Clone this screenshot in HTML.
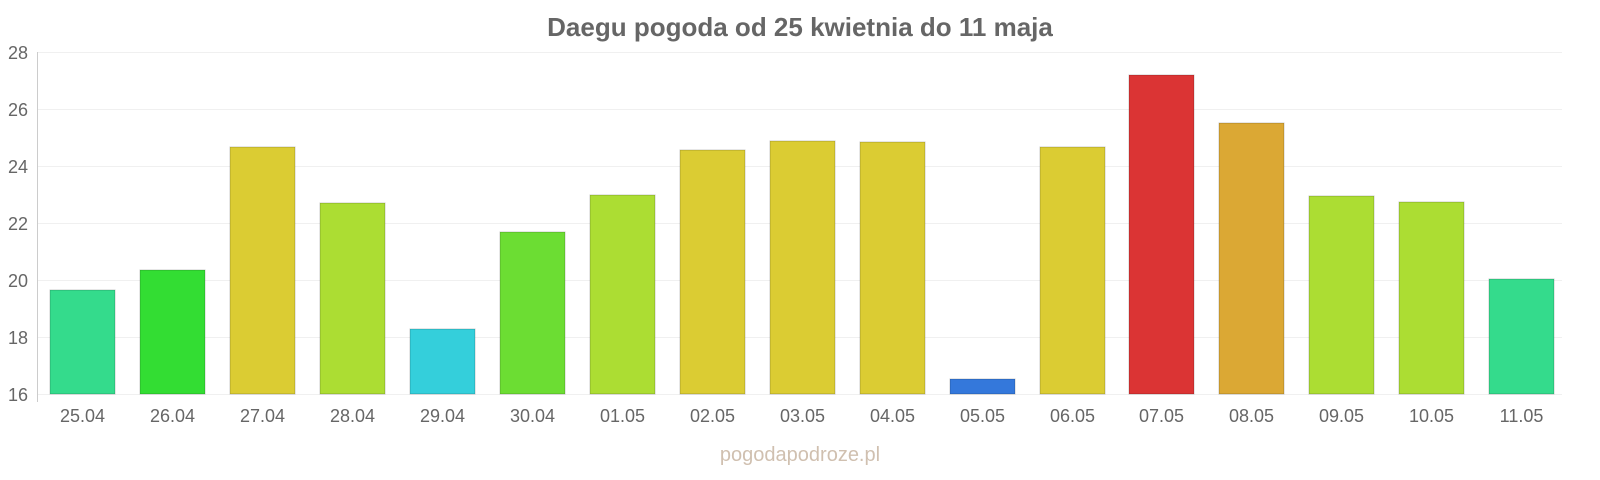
<!DOCTYPE html>
<html><head><meta charset="utf-8"><style>html,body{margin:0;background:#fff;overflow:hidden}svg{display:block}</style></head><body>
<svg width="1600" height="480" xmlns="http://www.w3.org/2000/svg" font-family="Liberation Sans, sans-serif">
<rect width="1600" height="480" fill="#fff"/>
<text x="800" y="36" text-anchor="middle" font-size="26" font-weight="bold" fill="#666">Daegu pogoda od 25 kwietnia do 11 maja</text>
<g stroke="#f0f0f0" stroke-width="1">
<line x1="38" x2="1562" y1="52.5" y2="52.5"/><line x1="38" x2="1562" y1="109.5" y2="109.5"/><line x1="38" x2="1562" y1="166.5" y2="166.5"/><line x1="38" x2="1562" y1="223.5" y2="223.5"/><line x1="38" x2="1562" y1="280.5" y2="280.5"/><line x1="38" x2="1562" y1="337.5" y2="337.5"/><line x1="38" x2="1562" y1="394.5" y2="394.5"/>
</g>
<line x1="37.5" x2="37.5" y1="52" y2="402" stroke="#ccc"/>
<g font-size="18" fill="#666" text-anchor="end">
<text x="28" y="59">28</text><text x="28" y="116">26</text><text x="28" y="173">24</text><text x="28" y="230">22</text><text x="28" y="287">20</text><text x="28" y="344">18</text><text x="28" y="401">16</text>
</g>
<g stroke-width="1" stroke-opacity="0.2" stroke="#000">
<rect x="50" y="290" width="65" height="104" fill="#34db8c"/>
<rect x="140" y="270" width="65" height="124" fill="#33dd33"/>
<rect x="230" y="147" width="65" height="247" fill="#dbcc33"/>
<rect x="320" y="203" width="65" height="191" fill="#acdd33"/>
<rect x="410" y="329" width="65" height="65" fill="#34cfdb"/>
<rect x="500" y="232" width="65" height="162" fill="#6cdd33"/>
<rect x="590" y="195" width="65" height="199" fill="#acdd33"/>
<rect x="680" y="150" width="65" height="244" fill="#dbcc33"/>
<rect x="770" y="141" width="65" height="253" fill="#dbcc33"/>
<rect x="860" y="142" width="65" height="252" fill="#dbcc33"/>
<rect x="950" y="379" width="65" height="15" fill="#3478db"/>
<rect x="1040" y="147" width="65" height="247" fill="#dbcc33"/>
<rect x="1129" y="75" width="65" height="319" fill="#db3434"/>
<rect x="1219" y="123" width="65" height="271" fill="#dba834"/>
<rect x="1309" y="196" width="65" height="198" fill="#acdd33"/>
<rect x="1399" y="202" width="65" height="192" fill="#acdd33"/>
<rect x="1489" y="279" width="65" height="115" fill="#34db8c"/>
</g>
<g font-size="18" fill="#666" text-anchor="middle">
<text x="82.5" y="422">25.04</text><text x="172.5" y="422">26.04</text><text x="262.5" y="422">27.04</text><text x="352.5" y="422">28.04</text><text x="442.5" y="422">29.04</text><text x="532.5" y="422">30.04</text><text x="622.5" y="422">01.05</text><text x="712.5" y="422">02.05</text><text x="802.5" y="422">03.05</text><text x="892.5" y="422">04.05</text><text x="982.5" y="422">05.05</text><text x="1072.5" y="422">06.05</text><text x="1161.5" y="422">07.05</text><text x="1251.5" y="422">08.05</text><text x="1341.5" y="422">09.05</text><text x="1431.5" y="422">10.05</text><text x="1521.5" y="422">11.05</text>
</g>
<text x="800" y="461" text-anchor="middle" font-size="20" fill="#d0c0b0">pogodapodroze.pl</text>
</svg>
</body></html>
